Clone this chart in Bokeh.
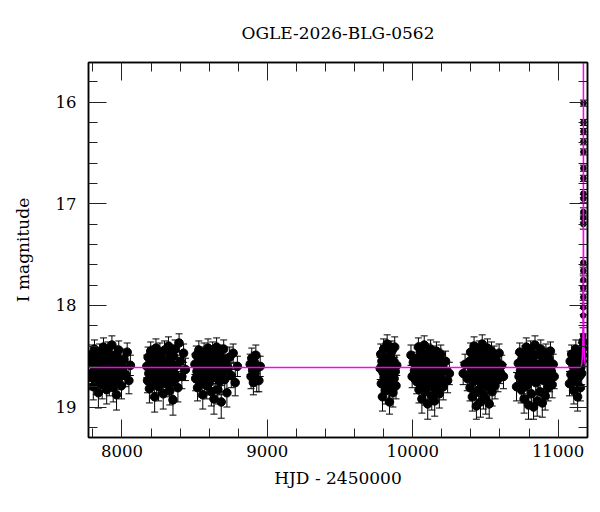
from bokeh.plotting import figure
from bokeh.models import (Range1d, LinearAxis, Whisker, TeeHead, ColumnDataSource,
                          SingleIntervalTicker, CustomJSTickFormatter)
from bokeh.embed import file_html
from bokeh.resources import INLINE

TITLE = "OGLE-2026-BLG-0562"
XLABEL = "HJD - 2450000"
YLABEL = "I magnitude"

# ---- photometry, season by season (HJD-2450000, I mag, error) ----
s1_t = [7786, 7790, 7795, 7799, 7803, 7808, 7811, 7816, 7820, 7824, 7829, 7833, 7838, 7841,
        7846, 7851, 7855, 7859, 7864, 7868, 7873, 7877, 7882, 7886, 7890, 7895, 7899, 7904,
        7908, 7913, 7917, 7922, 7926, 7931, 7935, 7940, 7944, 7949, 7954, 7958, 7963, 7968,
        7973, 7978, 7984, 7990, 7997, 8005, 8014, 8024, 8036, 8048, 8058]
s1_m = [18.55, 18.71, 18.48, 18.66, 18.80, 18.59, 18.43, 18.69, 18.62, 18.75, 18.52, 18.64,
        18.86, 18.57, 18.47, 18.72, 18.61, 18.54, 18.78, 18.66, 18.41, 18.60, 18.73, 18.50,
        18.68, 18.83, 18.58, 18.45, 18.63, 18.76, 18.53, 18.70, 18.62, 18.39, 18.67, 18.81,
        18.56, 18.49, 18.74, 18.60, 18.88, 18.51, 18.65, 18.44, 18.71, 18.58, 18.79, 18.62,
        18.53, 18.68, 18.46, 18.74, 18.59]
s1_e = [0.10, 0.12, 0.09, 0.11, 0.13, 0.10, 0.09, 0.12, 0.11, 0.13, 0.10, 0.11, 0.15, 0.10,
        0.09, 0.12, 0.11, 0.10, 0.14, 0.11, 0.09, 0.10, 0.12, 0.10, 0.11, 0.14, 0.10, 0.09,
        0.11, 0.13, 0.10, 0.12, 0.11, 0.09, 0.12, 0.14, 0.10, 0.09, 0.13, 0.11, 0.15, 0.10,
        0.11, 0.09, 0.12, 0.10, 0.13, 0.11, 0.10, 0.12, 0.09, 0.13, 0.10]

s2_t = [8171, 8176, 8180, 8185, 8189, 8194, 8198, 8203, 8207, 8212, 8216, 8221, 8225, 8230,
        8234, 8239, 8243, 8248, 8252, 8257, 8261, 8266, 8270, 8275, 8279, 8284, 8288, 8293,
        8297, 8302, 8306, 8311, 8315, 8320, 8324, 8329, 8333, 8338, 8342, 8347, 8351, 8356,
        8361, 8366, 8372, 8378, 8385, 8393, 8402, 8412, 8424, 8437]
s2_m = [18.60, 18.74, 18.51, 18.67, 18.82, 18.56, 18.45, 18.70, 18.63, 18.78, 18.49, 18.65,
        18.90, 18.58, 18.42, 18.73, 18.61, 18.53, 18.80, 18.68, 18.46, 18.62, 18.75, 18.52,
        18.69, 18.87, 18.57, 18.44, 18.64, 18.77, 18.55, 18.71, 18.60, 18.40, 18.66, 18.84,
        18.54, 18.48, 18.76, 18.62, 18.93, 18.50, 18.67, 18.43, 18.72, 18.59, 18.81, 18.37,
        18.55, 18.70, 18.47, 18.63]
s2_e = [0.11, 0.12, 0.10, 0.11, 0.14, 0.10, 0.09, 0.12, 0.11, 0.13, 0.09, 0.11, 0.15, 0.10,
        0.09, 0.13, 0.11, 0.10, 0.14, 0.12, 0.09, 0.11, 0.13, 0.10, 0.12, 0.15, 0.10, 0.09,
        0.11, 0.13, 0.10, 0.12, 0.11, 0.09, 0.11, 0.14, 0.10, 0.09, 0.13, 0.11, 0.15, 0.10,
        0.12, 0.09, 0.12, 0.10, 0.14, 0.09, 0.10, 0.12, 0.09, 0.11]

s3_t = [8502, 8507, 8511, 8516, 8520, 8525, 8529, 8534, 8538, 8543, 8547, 8552, 8556, 8561,
        8565, 8570, 8574, 8579, 8583, 8588, 8592, 8597, 8601, 8606, 8610, 8615, 8619, 8624,
        8628, 8633, 8637, 8642, 8646, 8651, 8655, 8660, 8664, 8669, 8673, 8678, 8683, 8688,
        8694, 8700, 8707, 8714, 8722, 8731, 8741, 8752, 8765, 8779, 8794]
s3_m = [18.58, 18.72, 18.49, 18.65, 18.81, 18.55, 18.44, 18.69, 18.62, 18.77, 18.51, 18.66,
        18.88, 18.57, 18.46, 18.74, 18.60, 18.53, 18.79, 18.67, 18.42, 18.61, 18.76, 18.50,
        18.70, 18.85, 18.56, 18.45, 18.63, 18.92, 18.54, 18.71, 18.59, 18.41, 18.68, 18.83,
        18.57, 18.48, 18.75, 18.61, 18.95, 18.52, 18.66, 18.43, 18.73, 18.58, 18.86, 18.62,
        18.51, 18.69, 18.47, 18.76, 18.60]
s3_e = [0.10, 0.12, 0.09, 0.11, 0.13, 0.10, 0.09, 0.12, 0.10, 0.13, 0.10, 0.11, 0.14, 0.10,
        0.09, 0.12, 0.11, 0.10, 0.13, 0.11, 0.09, 0.10, 0.12, 0.10, 0.11, 0.14, 0.10, 0.09,
        0.11, 0.15, 0.10, 0.12, 0.11, 0.09, 0.12, 0.14, 0.10, 0.09, 0.13, 0.11, 0.16, 0.10,
        0.11, 0.09, 0.12, 0.10, 0.14, 0.11, 0.10, 0.12, 0.09, 0.13, 0.10]

s4_t = [8882, 8888, 8893, 8899, 8904, 8910, 8915, 8921, 8927, 8934, 8942, 8951]
s4_m = [18.58, 18.70, 18.52, 18.64, 18.76, 18.56, 18.67, 18.49, 18.73, 18.61, 18.74, 18.60]
s4_e = [0.10, 0.12, 0.10, 0.11, 0.12, 0.10, 0.11, 0.10, 0.12, 0.11, 0.11, 0.10]

s5_t = [9776, 9780, 9784, 9788, 9792, 9796, 9800, 9804, 9808, 9812, 9816, 9820, 9824, 9828,
        9832, 9836, 9840, 9844, 9848, 9852, 9856, 9860, 9864, 9868, 9872, 9876, 9880, 9885,
        9890]
s5_m = [18.62, 18.48, 18.77, 18.55, 18.90, 18.66, 18.43, 18.71, 18.58, 18.84, 18.52, 18.69,
        18.38, 18.63, 18.80, 18.57, 18.95, 18.50, 18.74, 18.61, 18.45, 18.68, 18.86, 18.55,
        18.72, 18.41, 18.65, 18.79, 18.59]
s5_e = [0.11, 0.10, 0.13, 0.10, 0.14, 0.11, 0.10, 0.12, 0.10, 0.13, 0.10, 0.11, 0.09, 0.11,
        0.13, 0.10, 0.12, 0.10, 0.12, 0.11, 0.10, 0.11, 0.14, 0.10, 0.12, 0.10, 0.11, 0.13,
        0.10]

s6_t = [9988, 9996, 10004, 10012, 10020, 10027, 10031, 10035, 10039, 10043, 10047, 10051,
        10055, 10059, 10063, 10067, 10071, 10075, 10079, 10083, 10087, 10091, 10095, 10099,
        10103, 10107, 10111, 10115, 10119, 10123, 10127, 10131, 10135, 10139, 10143, 10147,
        10151, 10155, 10159, 10163, 10167, 10171, 10175, 10179, 10183, 10188, 10193, 10198,
        10204, 10210, 10216, 10226, 10240, 10252]
s6_m = [18.49, 18.70, 18.56, 18.64, 18.60, 18.75, 18.52, 18.67, 18.41, 18.83, 18.58, 18.71,
        18.46, 18.63, 18.92, 18.54, 18.77, 18.60, 18.39, 18.68, 18.85, 18.51, 18.73, 18.62,
        18.97, 18.47, 18.66, 18.80, 18.56, 18.43, 18.70, 18.89, 18.59, 18.75, 18.50, 18.64,
        18.94, 18.57, 18.82, 18.45, 18.69, 18.61, 18.78, 18.53, 18.87, 18.66, 18.48, 18.72,
        18.58, 18.80, 18.63, 18.55, 18.74, 18.67]
s6_e = [0.10, 0.11, 0.10, 0.11, 0.10, 0.12, 0.10, 0.11, 0.09, 0.13, 0.10, 0.12, 0.09, 0.11,
        0.14, 0.10, 0.12, 0.11, 0.09, 0.11, 0.13, 0.10, 0.12, 0.11, 0.15, 0.09, 0.11, 0.13,
        0.10, 0.09, 0.12, 0.14, 0.10, 0.12, 0.10, 0.11, 0.15, 0.10, 0.13, 0.09, 0.11, 0.10,
        0.12, 0.10, 0.14, 0.11, 0.09, 0.12, 0.10, 0.13, 0.11, 0.10, 0.12, 0.11]

s7_t = [10347, 10360, 10375, 10390, 10394, 10398, 10402, 10406, 10410, 10414, 10418, 10422,
        10426, 10430, 10434, 10438, 10442, 10446, 10450, 10454, 10458, 10462, 10466, 10470,
        10474, 10478, 10482, 10486, 10490, 10494, 10498, 10502, 10506, 10510, 10514, 10518,
        10522, 10526, 10530, 10534, 10538, 10542, 10546, 10550, 10555, 10560, 10566, 10572,
        10579, 10586, 10594, 10602, 10612, 10624]
s7_m = [18.67, 18.58, 18.72, 18.55, 18.81, 18.46, 18.69, 18.62, 18.90, 18.52, 18.75, 18.40,
        18.64, 18.86, 18.57, 18.99, 18.49, 18.71, 18.60, 18.83, 18.44, 18.66, 18.95, 18.54,
        18.78, 18.38, 18.63, 18.88, 18.59, 18.73, 18.48, 18.92, 18.56, 18.68, 18.42, 18.80,
        18.61, 18.97, 18.51, 18.74, 18.65, 18.45, 18.85, 18.58, 18.70, 18.50, 18.79, 18.62,
        18.55, 18.73, 18.47, 18.66, 18.59, 18.70]
s7_e = [0.11, 0.10, 0.12, 0.10, 0.13, 0.09, 0.11, 0.10, 0.14, 0.10, 0.12, 0.09, 0.11, 0.14,
        0.10, 0.13, 0.09, 0.12, 0.11, 0.13, 0.09, 0.11, 0.15, 0.10, 0.12, 0.09, 0.11, 0.14,
        0.10, 0.12, 0.09, 0.15, 0.10, 0.11, 0.09, 0.13, 0.11, 0.14, 0.10, 0.12, 0.11, 0.09,
        0.14, 0.10, 0.12, 0.10, 0.13, 0.11, 0.10, 0.12, 0.09, 0.11, 0.10, 0.12]

s8_t = [10714, 10726, 10731, 10736, 10741, 10746, 10751, 10756, 10761, 10766, 10771, 10776,
        10781, 10786, 10791, 10796, 10801, 10806, 10811, 10816, 10821, 10826, 10831, 10836,
        10841, 10846, 10851, 10856, 10861, 10866, 10871, 10876, 10881, 10886, 10891, 10896,
        10901, 10906, 10911, 10916, 10921, 10926, 10931, 10936, 10941, 10947, 10953, 10959,
        10966, 10973]
s8_m = [18.80, 18.57, 18.70, 18.46, 18.64, 18.83, 18.53, 18.75, 18.61, 18.92, 18.49, 18.68,
        18.41, 18.79, 18.59, 18.98, 18.55, 18.72, 18.44, 18.87, 18.63, 18.51, 19.00, 18.67,
        18.39, 18.76, 18.58, 18.94, 18.48, 18.71, 18.62, 18.85, 18.43, 18.66, 18.96, 18.54,
        18.74, 18.60, 18.89, 18.47, 18.69, 18.57, 18.81, 18.52, 18.73, 18.45, 18.65, 18.78,
        18.58, 18.70]
s8_e = [0.14, 0.10, 0.11, 0.09, 0.11, 0.13, 0.10, 0.12, 0.11, 0.14, 0.09, 0.11, 0.09, 0.13,
        0.10, 0.14, 0.10, 0.12, 0.09, 0.14, 0.11, 0.10, 0.12, 0.11, 0.09, 0.12, 0.10, 0.15,
        0.09, 0.12, 0.11, 0.13, 0.09, 0.11, 0.14, 0.10, 0.12, 0.11, 0.14, 0.09, 0.11, 0.10,
        0.13, 0.10, 0.12, 0.09, 0.11, 0.13, 0.10, 0.12]

s9_t = [11078, 11083, 11088, 11093, 11098, 11103, 11108, 11113, 11118, 11122, 11126, 11130,
        11134, 11138, 11142, 11146, 11150, 11153, 11156, 11159, 11162, 11165, 11167, 11169,
        11171]
s9_m = [18.77, 18.55, 18.68, 18.48, 18.72, 18.60, 18.84, 18.52, 18.66, 18.43, 18.75, 18.58,
        18.90, 18.63, 18.50, 18.70, 18.57, 18.81, 18.61, 18.46, 18.67, 18.55, 18.49, 18.42,
        18.36]
s9_e = [0.12, 0.10, 0.11, 0.09, 0.12, 0.10, 0.13, 0.10, 0.11, 0.09, 0.12, 0.10, 0.14, 0.11,
        0.10, 0.11, 0.10, 0.13, 0.10, 0.09, 0.11, 0.10, 0.09, 0.09, 0.08]

# rising part of the event
peak_t = [11172.0, 11172.4, 11172.7, 11172.9, 11173.0, 11173.1, 11173.2, 11173.25, 11173.3,
          11173.4, 11173.45, 11173.5, 11173.55, 11173.6, 11173.65, 11173.7, 11173.75,
          11173.8, 11173.85, 11173.9]
peak_m = [18.30, 18.10, 18.02, 17.92, 17.83, 17.75, 17.66, 17.58, 17.20, 17.14, 17.08, 16.95,
          16.90, 16.75, 16.65, 16.49, 16.39, 16.29, 16.20, 16.01]
peak_e = [0.08, 0.07, 0.07, 0.06, 0.06, 0.06, 0.05, 0.05, 0.05, 0.04, 0.04, 0.04, 0.04, 0.03,
          0.03, 0.03, 0.03, 0.03, 0.03, 0.03]

# model light curve
model_t = [7770, 11150, 11158, 11163, 11167, 11170, 11172, 11173.2, 11173.7, 11174.0,
           11174.3, 11174.8, 11176, 11178, 11181, 11185, 11190, 11210]
model_m = [18.61, 18.61, 18.60, 18.57, 18.50, 18.38, 18.15, 17.50, 16.50, 15.30,
           16.50, 17.50, 18.15, 18.38, 18.50, 18.57, 18.60, 18.61]

X_RANGE = (7770, 11202)
Y_RANGE = (19.30, 15.61)

baseline_seasons = [(s1_t, s1_m, s1_e), (s2_t, s2_m, s2_e), (s3_t, s3_m, s3_e),
                    (s4_t, s4_m, s4_e), (s5_t, s5_m, s5_e), (s6_t, s6_m, s6_e),
                    (s7_t, s7_m, s7_e), (s8_t, s8_m, s8_e), (s9_t, s9_m, s9_e)]


def make_source(groups):
    T, M, LO, HI = [], [], [], []
    for ts, ms, es in groups:
        for t, m, e in zip(ts, ms, es):
            T.append(t)
            M.append(m)
            LO.append(m - e)
            HI.append(m + e)
    return ColumnDataSource(dict(t=T, m=M, lo=LO, hi=HI))


src_base = make_source(baseline_seasons)
src_peak = make_source([(peak_t, peak_m, peak_e)])

FONT = "DejaVu Serif"

p = figure(width=600, height=512, output_backend="svg", toolbar_location=None,
           x_range=Range1d(*X_RANGE), y_range=Range1d(*Y_RANGE),
           min_border_left=88, min_border_right=13, min_border_top=62, min_border_bottom=75,
           title=TITLE)
p.background_fill_color = "white"
p.border_fill_color = "white"
p.outline_line_color = "black"
p.outline_line_width = 1.5
p.xgrid.visible = False
p.ygrid.visible = False

p.title.align = "center"
p.title.text_font = FONT
p.title.text_font_size = "17px"
p.title.text_font_style = "normal"
p.title.text_color = "black"
p.title.standoff = 39

blank = CustomJSTickFormatter(code="return '';")


def style(ax, labels=True):
    ax.axis_line_color = "black"
    ax.axis_line_width = 1.5
    ax.major_tick_in = 18
    ax.major_tick_out = 0
    ax.minor_tick_in = 9
    ax.minor_tick_out = 0
    ax.major_tick_line_color = "#222222"
    ax.minor_tick_line_color = "#222222"
    ax.major_tick_line_width = 1
    ax.minor_tick_line_width = 1
    ax.major_label_text_font = FONT
    ax.major_label_text_color = "black"
    ax.axis_label_text_font = FONT
    ax.axis_label_text_font_style = "normal"
    ax.axis_label_text_font_size = "17px"
    ax.axis_label_text_color = "black"
    ax.major_label_text_font_size = "16.5px"
    if not labels:
        ax.formatter = blank
        ax.major_label_standoff = 0


p.xaxis.ticker = SingleIntervalTicker(interval=1000, num_minor_ticks=5)
p.yaxis.ticker = SingleIntervalTicker(interval=1, num_minor_ticks=5)
p.xaxis.axis_label = XLABEL
p.yaxis.axis_label = YLABEL
style(p.xaxis[0])
style(p.yaxis[0])
p.xaxis.major_label_standoff = 7
p.xaxis.axis_label_standoff = 8
p.yaxis.major_label_standoff = 12
p.yaxis.axis_label_standoff = 20

top = LinearAxis(ticker=SingleIntervalTicker(interval=1000, num_minor_ticks=5))
right = LinearAxis(ticker=SingleIntervalTicker(interval=1, num_minor_ticks=5))
style(top, labels=False)
style(right, labels=False)
p.add_layout(top, "above")
p.add_layout(right, "right")

for src in (src_base, src_peak):
    p.add_layout(Whisker(source=src, base="t", lower="lo", upper="hi", dimension="height",
                         line_color="black", line_width=1,
                         lower_head=TeeHead(size=7, line_color="black", line_width=1),
                         upper_head=TeeHead(size=7, line_color="black", line_width=1)))
p.scatter("t", "m", source=src_base, size=8.5, color="black")
p.scatter("t", "m", source=src_peak, size=5.5, color="black")
p.line(model_t, model_m, line_color="#ff00ff", line_width=1.5)

open("out.html", "w").write(file_html(p, INLINE))
